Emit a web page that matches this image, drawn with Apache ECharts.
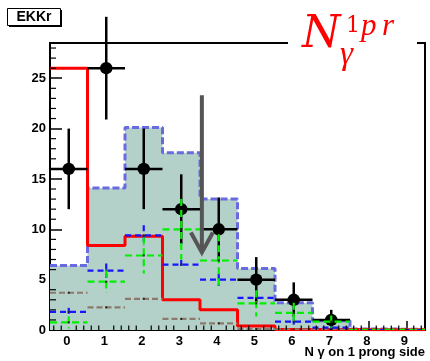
<!DOCTYPE html>
<html>
<head>
<meta charset="utf-8">
<script src="https://cdn.jsdelivr.net/npm/echarts@6/dist/echarts.min.js"></script>
<style>
html, body { margin: 0; padding: 0; background: #fff; }
#chart { width: 430px; height: 361px; }
</style>
</head>
<body>
<div id="chart"></div>
<script>
// Photon multiplicity on the one-prong side, bins 0..9
const binCenters = [0, 1, 2, 3, 4, 5, 6, 7, 8, 9];
const xTickLabels = ['0', '1', '2', '3', '4', '5', '6', '7', '8', '9'];
const yTickValues = [0, 5, 10, 15, 20, 25];

// observed events with statistical errors
const dataCounts = [16, 26, 16, 12, 10, 5, 3, 1, 0, 0];
const dataErrors = [4, 5.1, 4, 3.46, 3.16, 2.24, 1.73, 1, 0, 0];

// total expectation (filled histogram)
const totalExpected = [6.4, 14.1, 20.1, 17.6, 13.0, 6.1, 2.7, 0.93, 0.1, 0.06];

// signal shape (red)
const signalShape = [26, 8.4, 9.3, 3.0, 2.0, 0.4, 0.05, 0.04, 0.03, 0.03];

// background components
const bkgBlue = [1.8, 5.9, 9.4, 6.5, 5.0, 3.2, 0.83, 0.23, 0.0, 0.0];
const bkgBlueErr = [0.4, 0.7, 1.0, 0.46, 0.6, 0.5, 0.3, 0.15, 0, 0];
const bkgGreen = [0.76, 4.8, 7.4, 10.0, 6.9, 2.65, 1.7, 0.83, 0.02, 0.02];
const bkgGreenErr = [0.6, 1.1, 1.8, 3.0, 2.6, 1.3, 1.0, 0.6, 0, 0];
const bkgBrown = [3.7, 2.25, 3.1, 1.1, 0.66, 0.1, 0.05, 0.03, 0.02, 0.02];

// cut position arrow: x, top of shaft, tip
const cutArrow = [3.55, 23.3, 7.7];

const X_MIN = -0.5, X_MAX = 9.5, Y_MAX = 28.5;

function range(a, b, step) {
  const out = [];
  for (let v = a; v <= b + 1e-9; v += step) out.push(Math.round(v * 100) / 100);
  return out;
}

// minor tick positions along each axis
const xMinorTicks = range(-0.4, 9.4, 0.2).filter(v => Math.abs(v - Math.round(v)) > 1e-6);
const yMinorTicks = range(1, 28, 1).filter(v => v % 5 !== 0);

// step outline of a histogram across bin edges
function stepPoints(vals) {
  const pts = [];
  vals.forEach((v, i) => {
    pts.push([binCenters[i] - 0.5, v]);
    pts.push([binCenters[i] + 0.5, v]);
  });
  return pts;
}

// per-bin horizontal bar plus vertical error bar
function crossSeries(name, vals, errs, color, dash, z) {
  return {
    type: 'custom',
    name: name,
    z: z,
    clip: true,
    data: vals.map((v, i) => [binCenters[i], v, errs ? errs[i] : 0]),
    renderItem(params, api) {
      const x = api.value(0), y = api.value(1), e = api.value(2);
      const l = api.coord([x - 0.5, y]);
      const r = api.coord([x + 0.5, y]);
      const t = api.coord([x, y + e]);
      const b = api.coord([x, Math.max(0, y - e)]);
      const style = { stroke: color, lineWidth: 2.2, lineDash: dash, fill: null };
      const children = [
        { type: 'line', shape: { x1: l[0], y1: l[1], x2: r[0], y2: r[1] }, style: style }
      ];
      if (e > 0) {
        children.push({ type: 'line', shape: { x1: t[0], y1: t[1], x2: b[0], y2: b[1] }, style: style });
      }
      children.push({ type: 'rect', shape: { x: l[0] + (r[0] - l[0]) / 2 - 1, y: l[1] - 1, width: 2, height: 2 }, style: { fill: '#222' } });
      return { type: 'group', children: children };
    }
  };
}

// short inward ticks drawn at axis positions
function minorTickSeries(values, dim) {
  return {
    type: 'custom', name: 'minor-' + dim, z: 20, clip: false, silent: true,
    data: values.map(v => [v]),
    renderItem(params, api) {
      const v = api.value(0);
      const st = { stroke: '#000', lineWidth: 1.2 };
      if (dim === 'x') {
        const p = api.coord([v, 0]);
        return { type: 'line', shape: { x1: p[0], y1: p[1], x2: p[0], y2: p[1] - 4.5 }, style: st };
      }
      const p = api.coord([X_MIN, v]);
      return { type: 'line', shape: { x1: p[0], y1: p[1], x2: p[0] + 6, y2: p[1] }, style: st };
    }
  };
}

const chart = echarts.init(document.getElementById('chart'), null, { renderer: 'canvas' });

const axisFont = { fontFamily: 'Liberation Sans', fontWeight: 'bold', fontSize: 13, color: '#000' };

const option = {
  animation: false,
  backgroundColor: '#fff',
  grid: {
    left: 50, right: 5, top: 43, bottom: 31,
    show: true, borderColor: '#000', borderWidth: 2,
    containLabel: false, outerBoundsMode: 'none'
  },
  xAxis: {
    type: 'value', min: X_MIN, max: X_MAX, position: 'bottom',
    axisLine: { show: true, onZero: false, lineStyle: { color: '#000', width: 2 } },
    axisTick: { show: true, inside: true, length: 9, customValues: binCenters, lineStyle: { color: '#000', width: 1.5 } },
    axisLabel: Object.assign({ show: true, customValues: binCenters, margin: 5, padding: [0, 4, 0, 0],
      formatter: v => xTickLabels[binCenters.indexOf(v)] }, axisFont),
    splitLine: { show: false }
  },
  yAxis: {
    type: 'value', min: 0, max: Y_MAX, position: 'left',
    axisLine: { show: true, onZero: false, lineStyle: { color: '#000', width: 2 } },
    axisTick: { show: true, inside: true, length: 12, customValues: yTickValues, lineStyle: { color: '#000', width: 1.5 } },
    axisLabel: Object.assign({ show: true, customValues: yTickValues, margin: 4 }, axisFont),
    splitLine: { show: false }
  },
  series: [
    {
      type: 'line', name: 'total', z: 1,
      data: stepPoints(totalExpected),
      showSymbol: false, symbol: 'none',
      lineStyle: { color: '#6a6ae0', width: 3, type: [7, 3] },
      areaStyle: { color: '#b3d1c9', opacity: 1 },
      clip: true
    },
    {
      type: 'line', name: 'signal', z: 3,
      data: stepPoints(signalShape),
      showSymbol: false, symbol: 'none',
      lineStyle: { color: '#ff0000', width: 3 },
      clip: true
    },
    crossSeries('brown', bkgBrown, null, '#8e7a6c', [6, 3], 4),
    {
      type: 'custom', name: 'data', z: 5, clip: false,
      data: dataCounts.map((v, i) => [binCenters[i], v, dataErrors[i]]).filter(d => d[1] > 0),
      renderItem(params, api) {
        const x = api.value(0), y = api.value(1), e = api.value(2);
        const c = api.coord([x, y]);
        const l = api.coord([x - 0.5, y]);
        const r = api.coord([x + 0.5, y]);
        const t = api.coord([x, y + e]);
        const b = api.coord([x, y - e]);
        const st = { stroke: '#000', lineWidth: 2.5 };
        return {
          type: 'group', children: [
            { type: 'line', shape: { x1: l[0], y1: l[1], x2: r[0], y2: r[1] }, style: st },
            { type: 'line', shape: { x1: t[0], y1: t[1], x2: b[0], y2: b[1] }, style: st },
            { type: 'circle', shape: { cx: c[0], cy: c[1], r: 6.2 }, style: { fill: '#000' } }
          ]
        };
      }
    },
    crossSeries('blue', bkgBlue, bkgBlueErr, '#1515ff', [6, 4], 6),
    crossSeries('green', bkgGreen, bkgGreenErr, '#00f000', [7, 4], 7),
    {
      type: 'custom', name: 'cut', z: 8, clip: false,
      data: [cutArrow],
      renderItem(params, api) {
        const top = api.coord([api.value(0), api.value(1)]);
        const tip = api.coord([api.value(0), api.value(2)]);
        const st = { stroke: '#555', lineWidth: 4, fill: null };
        return {
          type: 'group', children: [
            { type: 'line', shape: { x1: top[0], y1: top[1], x2: tip[0], y2: tip[1] - 2 }, style: st },
            { type: 'polyline', shape: { points: [[tip[0] - 11, tip[1] - 20], [tip[0], tip[1]], [tip[0] + 11, tip[1] - 20]] }, style: st }
          ]
        };
      }
    },
    minorTickSeries(xMinorTicks, 'x'),
    minorTickSeries(yMinorTicks, 'y')
  ],
  graphic: [
    // histogram title box with shadow
    { type: 'rect', z: 100, shape: { x: 9, y: 10, width: 53, height: 17 }, style: { fill: '#000' } },
    { type: 'rect', z: 101, shape: { x: 7.5, y: 8.5, width: 53, height: 17 }, style: { fill: '#fff', stroke: '#000', lineWidth: 1 } },
    { type: 'text', z: 102, style: { text: 'EKKr', x: 34, y: 17.5, align: 'center', verticalAlign: 'middle', font: 'bold 14px "Liberation Sans"', fill: '#000' } },
    // label of the variable
    { type: 'rect', z: 100, shape: { x: 288, y: 0, width: 129, height: 64 }, style: { fill: '#fff' } },
    { type: 'text', z: 101, style: { text: 'N', x: 302, y: 36, align: 'left', verticalAlign: 'middle', font: 'italic 44px "DejaVu Serif"', fill: '#ff0000' } },
    { type: 'text', z: 101, style: { text: 'γ', x: 340, y: 55, align: 'left', verticalAlign: 'middle', font: 'italic 33px "Liberation Serif"', fill: '#ff0000' } },
    { type: 'text', z: 101, style: { text: '1', x: 346, y: 26, align: 'left', verticalAlign: 'middle', font: '22px "DejaVu Serif"', fill: '#ff0000' } },
    { type: 'text', z: 101, style: { text: 'p', x: 361, y: 27, align: 'left', verticalAlign: 'middle', font: 'italic 31px "Liberation Serif"', fill: '#ff0000' } },
    { type: 'text', z: 101, style: { text: 'r', x: 382, y: 27, align: 'left', verticalAlign: 'middle', font: 'italic 31px "Liberation Serif"', fill: '#ff0000' } },
    // x axis title
    { type: 'text', z: 100, style: { text: 'N γ on 1 prong side', x: 425, y: 352, align: 'right', verticalAlign: 'middle', font: 'bold 13px "Liberation Sans"', fill: '#000' } }
  ]
};

chart.setOption(option);
</script>
</body>
</html>
